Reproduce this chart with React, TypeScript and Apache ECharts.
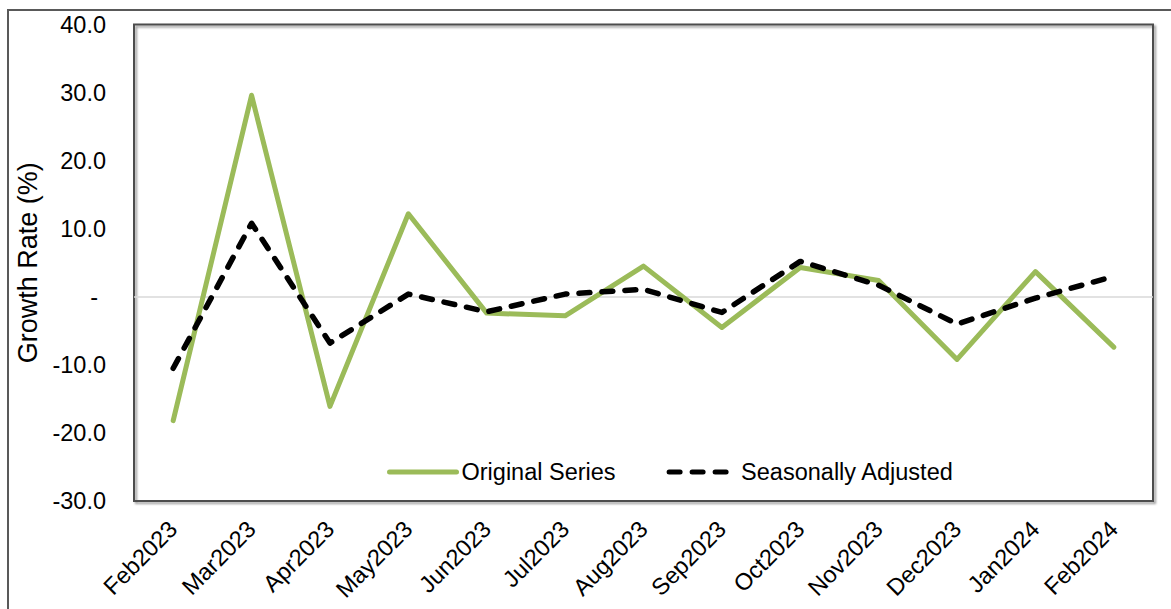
import React, { useEffect, useRef } from "react";
import * as echarts from "echarts";

const categories = [
  "Feb2023", "Mar2023", "Apr2023", "May2023", "Jun2023", "Jul2023", "Aug2023",
  "Sep2023", "Oct2023", "Nov2023", "Dec2023", "Jan2024", "Feb2024",
];
const originalSeries = [-18.2, 29.6, -16.1, 12.2, -2.4, -2.8, 4.5, -4.5, 4.3, 2.4, -9.2, 3.7, -7.4];
const seasonallyAdjusted = [-10.5, 10.8, -6.8, 0.4, -2.2, 0.4, 1.1, -2.3, 5.2, 1.7, -4.0, -0.2, 3.0];
const yTicks = { min: -30, max: 40, interval: 10 };
const seriesNames = ["Original Series", "Seasonally Adjusted"];
const yAxisName = "Growth Rate (%)";

const FONT = "'Liberation Sans', Arial, sans-serif";

export default function App() {
  const ref = useRef<HTMLDivElement>(null);
  useEffect(() => {
    if (!ref.current) return;
    const chart = echarts.init(ref.current, undefined, { renderer: "svg" });
    chart.setOption({
      animation: false,
      backgroundColor: "#ffffff",
      textStyle: { fontFamily: FONT },
      graphic: [
        {
          type: "rect",
          shape: { x: 8, y: 10, width: 1200, height: 650 },
          style: { fill: "none", stroke: "#595959", lineWidth: 2 },
          silent: true,
          z: 0,
        },
      ],
      grid: {
        left: 134,
        top: 24.5,
        right: 18,
        bottom: 108,
        show: true,
        borderColor: "#4d4d4d",
        borderWidth: 2,
        backgroundColor: "transparent",
        shadowColor: "rgba(0,0,0,0.4)",
        shadowOffsetX: 2,
        shadowOffsetY: 2,
        shadowBlur: 2,
      },
      legend: {
        data: seriesNames,
        left: 387,
        top: 460,
        padding: 0,
        itemWidth: 67,
        itemHeight: 14,
        itemGap: 51,
        itemStyle: { opacity: 0 },
        lineStyle: { width: 5 },
        textStyle: { fontSize: 23.5, color: "#000", fontFamily: FONT },
      },
      xAxis: {
        type: "category",
        data: categories,
        boundaryGap: true,
        axisLine: { show: false, onZero: false },
        axisTick: { show: false },
        splitLine: { show: false },
        axisLabel: {
          rotate: 45,
          margin: 24,
          fontSize: 23.5,
          color: "#000",
          fontFamily: FONT,
        },
      },
      yAxis: {
        type: "value",
        min: yTicks.min,
        max: yTicks.max,
        interval: yTicks.interval,
        name: yAxisName,
        nameLocation: "middle",
        nameGap: 91,
        nameTextStyle: { fontSize: 27, color: "#000", fontFamily: FONT },
        axisLine: { show: false },
        axisTick: { show: false },
        splitLine: { show: false },
        axisLabel: {
          margin: 28,
          fontSize: 23.5,
          color: "#000",
          fontFamily: FONT,
          formatter: (v: number) => (v === 0 ? "{d|-}" : v.toFixed(1)),
          rich: { d: { fontSize: 23.5, color: "#000", padding: [0, 8, 0, 0], fontFamily: FONT } },
        },
      },
      series: [
        {
          name: seriesNames[0],
          type: "line",
          data: originalSeries,
          symbol: "none",
          lineStyle: { color: "#9BBB59", width: 5, cap: "round", join: "round" },
          itemStyle: { color: "#9BBB59" },
          z: 3,
          markLine: {
            silent: true,
            symbol: "none",
            label: { show: false },
            lineStyle: { color: "#D9D9D9", width: 1.5, type: "solid" },
            data: [{ yAxis: 0 }],
            z: 1,
          },
        },
        {
          name: seriesNames[1],
          type: "line",
          data: seasonallyAdjusted,
          symbol: "none",
          lineStyle: { color: "#000000", width: 5.5, type: [11, 12], cap: "round", join: "round" },
          itemStyle: { color: "#000000" },
          z: 4,
        },
      ],
    });
    return () => chart.dispose();
  }, []);
  return (
    <div
      ref={ref}
      style={{ position: "absolute", left: 0, top: 0, width: 1171, height: 609 }}
    />
  );
}
